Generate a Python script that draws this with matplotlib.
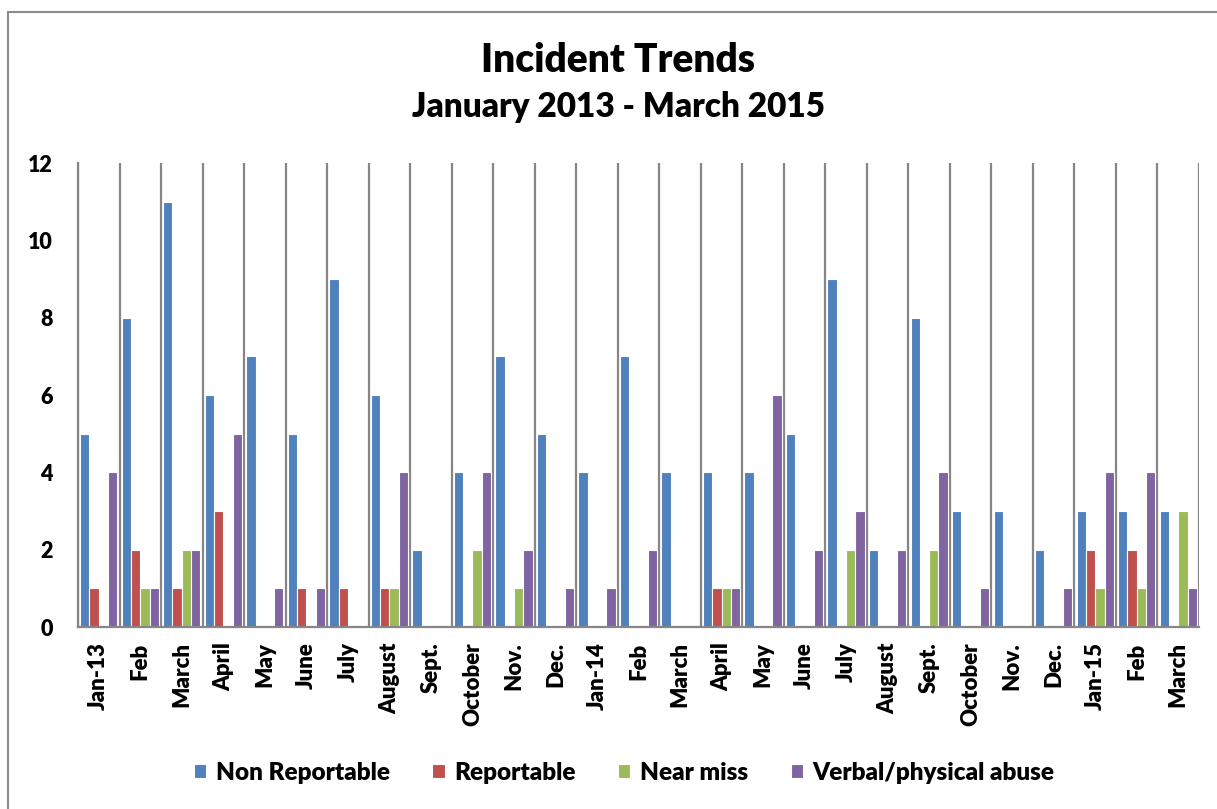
import matplotlib
matplotlib.use("Agg")
import matplotlib.pyplot as plt
import numpy as np
from matplotlib.patches import Rectangle

months = ["Jan-13", "Feb", "March", "April", "May", "June", "July", "August",
          "Sept.", "October", "Nov.", "Dec.", "Jan-14", "Feb", "March", "April",
          "May", "June", "July", "August", "Sept.", "October", "Nov.", "Dec.",
          "Jan-15", "Feb", "March"]
non_reportable = [5, 8, 11, 6, 7, 5, 9, 6, 2, 4, 7, 5, 4, 7, 4, 4, 4, 5, 9, 2, 8, 3, 3, 2, 3, 3, 3]
reportable = [1, 2, 1, 3, 0, 1, 1, 1, 0, 0, 0, 0, 0, 0, 0, 1, 0, 0, 0, 0, 0, 0, 0, 0, 2, 2, 0]
near_miss = [0, 1, 2, 0, 0, 0, 0, 1, 0, 2, 1, 0, 0, 0, 0, 1, 0, 0, 2, 0, 2, 0, 0, 0, 1, 1, 3]
abuse = [4, 1, 2, 5, 1, 1, 0, 4, 0, 4, 2, 1, 1, 2, 0, 1, 6, 2, 3, 2, 4, 1, 0, 1, 4, 4, 1]

series = [("Non Reportable", non_reportable, "#4F81BD"),
          ("Reportable", reportable, "#C0504D"),
          ("Near miss", near_miss, "#9BBB59"),
          ("Verbal/physical abuse", abuse, "#8064A2")]

GRID = "#868686"
TXT = ["Lato", "DejaVu Sans"]
WT = 800

fig = plt.figure(figsize=(12.17, 8.09), dpi=100)
ax = fig.add_axes([78 / 1217, 1 - 627 / 809, (1199 - 78) / 1217, (627 - 163) / 809])

x = np.arange(len(months))
w = 0.224
for i, (name, vals, col) in enumerate(series):
    vals = np.asarray(vals)
    keep = vals > 0  # empty months get no bar at all
    ax.bar(x[keep] + (i - 1.5) * w, vals[keep], w, color=col, edgecolor="white",
           linewidth=0.8, label=name, zorder=3)

ax.set_xlim(-0.5, len(months) - 0.5)
ax.set_ylim(0, 12)
ax.set_yticks(range(0, 13, 2))
ax.set_xticks(x)
ax.set_xticklabels(months, rotation=90, fontsize=16, fontweight=WT, family=TXT)
ax.set_xticks(np.arange(-0.5, len(months)), minor=True)
ax.grid(which="minor", axis="x", color=GRID, lw=1.6, zorder=1)
ax.tick_params(axis="x", which="both", length=0, pad=11)
ax.tick_params(axis="y", length=0, pad=18)
for lab in ax.get_yticklabels():
    lab.set_fontsize(15.5)
    lab.set_fontweight(WT)
    lab.set_family(TXT)

for s in ("top", "right"):
    ax.spines[s].set_visible(False)
for s in ("left", "bottom"):
    ax.spines[s].set_color(GRID)
    ax.spines[s].set_linewidth(1.6)
    ax.spines[s].set_zorder(5)

fig.text(0.508, 1 - 60 / 809, "Incident Trends", ha="center", va="center",
         fontsize=28, fontweight=WT, family=TXT)
fig.text(0.508, 1 - 107 / 809, "January 2013 - March 2015", ha="center", va="center",
         fontsize=24, fontweight=WT, family=TXT)

fig.legend(loc="center", bbox_to_anchor=(0.513, 1 - 773 / 809), ncol=4,
           frameon=False, handlelength=0.5, handleheight=0.5,
           handletextpad=0.4, columnspacing=1.75,
           prop={"family": TXT, "weight": WT, "size": 17.5})

# chart frame
fig.add_artist(Rectangle((8 / 1217, -0.1), 1.2, 1.1 - 12 / 809, transform=fig.transFigure,
                         fill=False, edgecolor="#8C8C8C", lw=1.5))

fig.savefig("out.png", dpi=100, facecolor="white")
